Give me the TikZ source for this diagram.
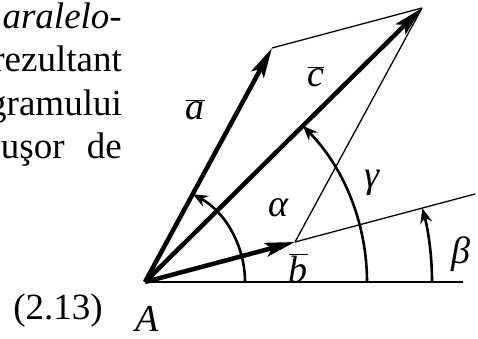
\documentclass[tikz,border=0pt]{standalone}
\usepackage{fontspec}
\setmainfont{Liberation Serif}
\usetikzlibrary{arrows.meta,calc}
\newcommand{\vlab}[1]{$\overline{\mbox{\itshape #1}}$}

\begin{document}
\begin{tikzpicture}[
  x=1pt, y=1pt,
  vec/.style={line width=4.5pt, -{Stealth[length=30pt, width=14pt, inset=6pt]}},
  ang/.style={line width=2.6pt, -{Stealth[length=15pt, width=12pt, inset=5pt]}},
  thin/.style={line width=1.3pt},
  lab/.style={inner sep=0pt, font=\fontsize{38}{44}\selectfont\itshape},
  txt/.style={inner sep=0pt, anchor=base east, font=\fontsize{37}{43}\selectfont}
]
\useasboundingbox (0,0) rectangle (478,338);
\coordinate (O) at (145,56);
\coordinate (tipa) at (272,290);
\coordinate (tipb) at (295,96);
\coordinate (tipc) at ($(tipa)+(tipb)-(O)$);
\coordinate (bext) at ($(O)!2.2!(tipb)$);
\coordinate (hend) at (463,56);
% parallelogram and axis
\draw[thin] (O) -- (hend);
\draw[thin] (tipb) -- (bext);
\draw[thin] (tipa) -- (tipc);
\draw[thin] (tipb) -- (tipc);
\draw[vec] (O) -- (tipa);
\draw[vec] (O) -- (tipb);
\draw[vec] (O) -- (tipc);
% angles
\draw[ang] ($(O)+(100,0)$) arc[start angle=0, end angle=61.5, radius=100];
\draw[ang] ($(O)+(222,0)$) arc[start angle=0, end angle=44.7, radius=222];
\draw[ang] ($(O)+(287,0)$) arc[start angle=0, end angle=14.9, radius=287];
\node[lab] (la) at (195,228) {\vlab{a}};
\node[lab] (lc) at (316,261) {\vlab{c}};
\node[lab] (lb) at (298,70) {\vlab{b}};
\node[lab] (lalpha) at (278,130) {α};
\node[lab] (lgamma) at (372,155) {γ};
\node[lab] (lbeta) at (461,84) {β};
\node[lab] (lA) at (147,19) {A};
\node[txt] (eq) at (103,19) {(2.13)};
% text cut from the page
\node[txt] (t1) at (122,309) {\itshape aralelo-};
\node[txt] (t2) at (122,266) {rezultant};
\node[txt] (t3) at (122,223) {gramului};
\node[txt] (t4) at (122,180) {uşor\hspace{0.6em}de};
\end{tikzpicture}
\end{document}
